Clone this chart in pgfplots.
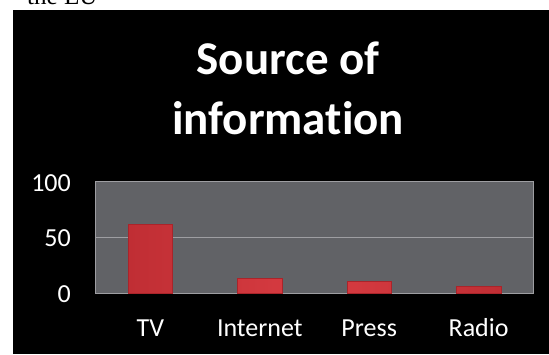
\documentclass[border=0pt]{standalone}
\usepackage{fontspec}
\setmainfont{Carlito}[Ligatures=NoCommon]
\newfontfamily\seriffont{Liberation Serif}
\usepackage{pgfplots}
\pgfplotsset{compat=1.18}
\definecolor{plotbg}{RGB}{97,98,102}
\definecolor{framegray}{RGB}{158,158,162}
\definecolor{barmain}{RGB}{216,60,66}
\definecolor{baredge}{RGB}{192,46,52}
\definecolor{bardraw}{RGB}{170,36,42}
\begin{document}
\begin{tikzpicture}[x=1bp,y=1bp]
\useasboundingbox (0,0) rectangle (549,354);
\fill[white] (0,0) rectangle (549,354);
\begin{scope}
\clip (0,0) rectangle (549,354);
\node[anchor=base west, inner sep=0, font=\seriffont\fontsize{25bp}{30bp}\selectfont] at (27,350) {the EU};
\end{scope}
\fill[black] (13,0) rectangle (549,344);
\node[anchor=base, inner sep=0, text=white, font=\bfseries\fontsize{47bp}{56bp}\selectfont] at (288,280) {Source of};
\node[anchor=base, inner sep=0, text=white, font=\bfseries\fontsize{47bp}{56bp}\selectfont] at (288,220) {information};
\begin{axis}[
  at={(95.7bp,60.7bp)}, anchor=south west,
  scale only axis, width=437.6bp, height=111.6bp,
  xmin=-0.5, xmax=3.5, ymin=0, ymax=100,
  axis background/.style={fill=plotbg},
  axis line style={framegray, line width=1.2bp},
  xtick=data, xticklabels={TV,Internet,Press,Radio},
  ytick={0,50,100},
  major tick length=0pt,
  ymajorgrids, grid style={framegray, line width=1.2bp},
  tick label style={text=white, font=\fontsize{26bp}{30bp}\selectfont, inner sep=0pt},
  xticklabel style={anchor=base, yshift=-43.4bp},
  yticklabel style={anchor=base east, xshift=-24.7bp, yshift=-9.4bp},
  /pgf/number format/assume math mode=true,
  ybar, bar width=44.4bp,
]
\addplot[draw=bardraw, line width=0.6bp, left color=baredge, right color=baredge, middle color=barmain]
  coordinates {(0,62) (1,13) (2,11) (3,6)};
\end{axis}
\end{tikzpicture}
\end{document}
